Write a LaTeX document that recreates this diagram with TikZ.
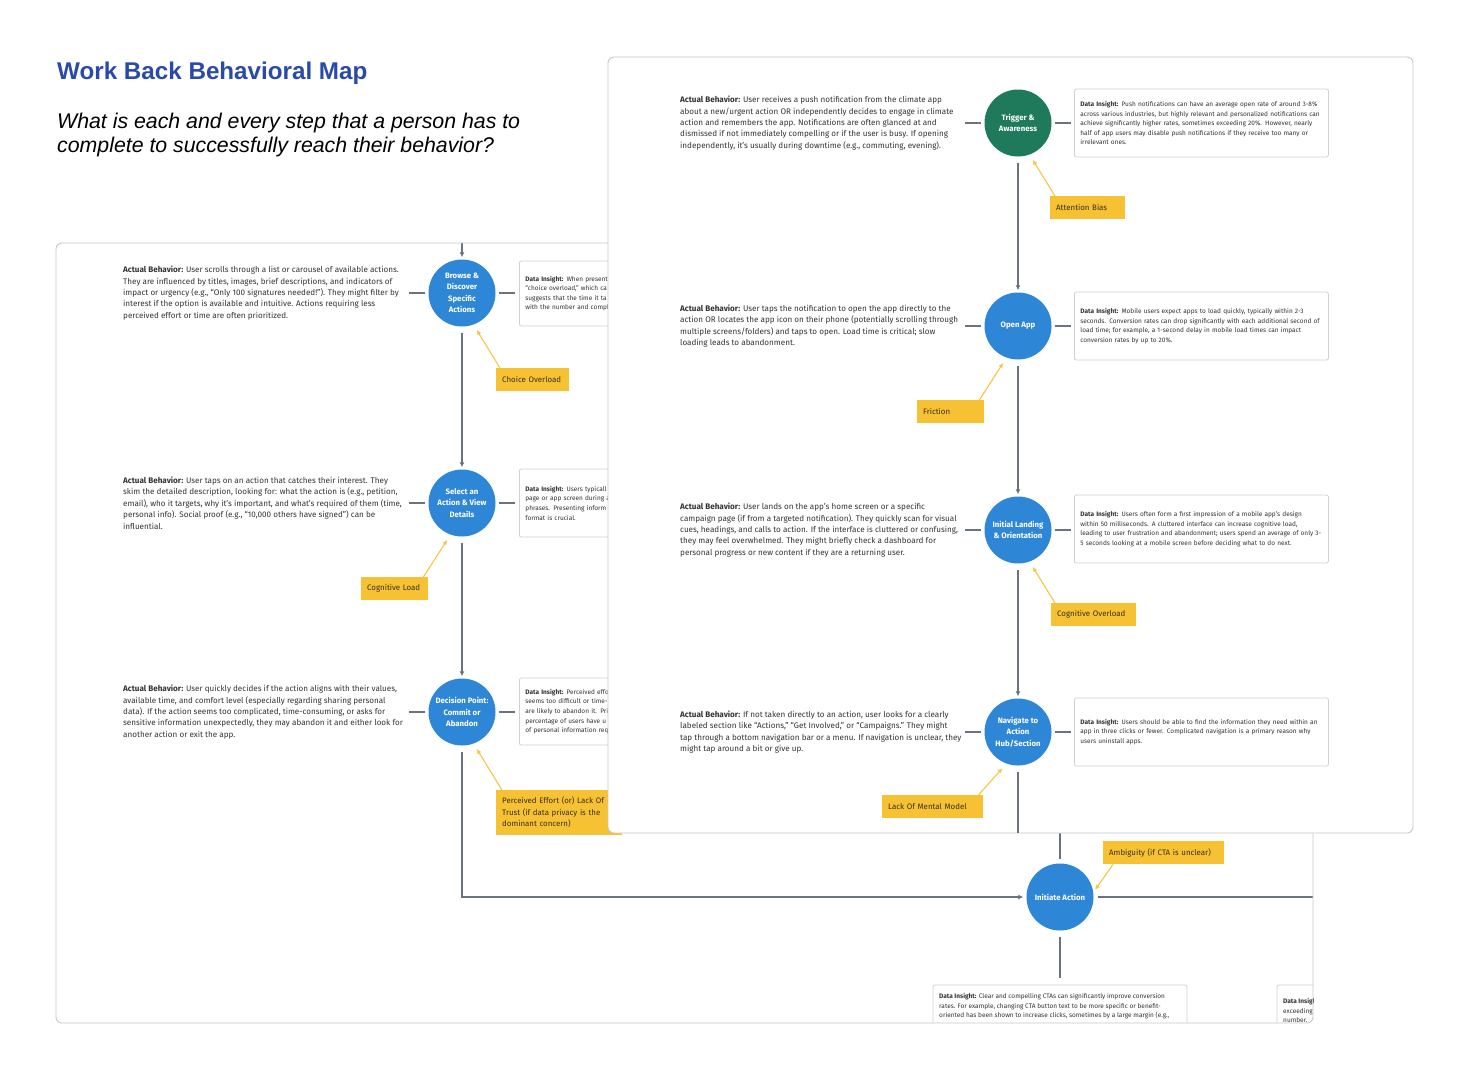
\documentclass[tikz,border=0pt]{standalone}
\usepackage{fontspec}
\setmainfont{Fira Sans}
\newfontfamily\headfont{Liberation Sans}
\usetikzlibrary{arrows.meta}
\definecolor{titleblue}{HTML}{2A4AA8}
\definecolor{nodeblue}{HTML}{2E86D6}
\definecolor{nodegreen}{HTML}{1F7A5C}
\definecolor{flagfill}{HTML}{F6C233}
\definecolor{flagline}{HTML}{F2C744}
\definecolor{connc}{HTML}{6B7280}
\definecolor{panelline}{HTML}{C8C8C8}
\definecolor{boxline}{HTML}{D0D0D0}
\definecolor{txt}{HTML}{333333}
\definecolor{flagtxt}{HTML}{3A3020}
\begin{document}
\begin{tikzpicture}[x=1pt,y=-1pt,
  stepnode/.style={circle, fill=nodeblue, minimum size=67pt, inner sep=0pt, text=white, align=center, font=\fontsize{7.8}{11.5}\selectfont\bfseries},
  behav/.style={anchor=west, align=left, inner sep=0pt, text=txt, font=\fontsize{8.1}{11.4}\selectfont},
  ibox/.style={draw=boxline, line width=0.8pt, fill=white, rounded corners=2pt, anchor=west, minimum width=254pt, minimum height=68pt, text width=242pt, inner xsep=6pt, align=left, text=txt, font=\fontsize{6.5}{9.6}\selectfont},
  itext/.style={anchor=north west, inner sep=0pt, align=left, text=txt, font=\fontsize{6.5}{9.6}\selectfont},
  flag/.style={fill=flagfill, anchor=north west, inner xsep=6pt, inner ysep=0pt, minimum height=23pt, align=left, text=flagtxt, font=\fontsize{7.9}{11.5}\selectfont},
  flow/.style={draw=connc, line width=1.3pt, -{Latex[length=5pt,width=5pt]}},
  conn/.style={draw=connc, line width=1.3pt},
  warn/.style={draw=flagline, line width=1.1pt, -{Latex[length=5pt,width=4.5pt]}, shorten >=6pt}
]
\useasboundingbox (0,0) rectangle (1470,1080);
\fill[white] (0,0) rectangle (1470,1080);

% Title
\node[anchor=base west, inner sep=0pt, text=titleblue, font=\headfont\fontsize{24.2}{28}\selectfont\bfseries] (title) at (57,79) {Work Back Behavioral Map};
\node[anchor=north west, inner sep=0pt, align=left, font=\headfont\fontsize{21.3}{24}\selectfont\itshape] (subtitle) at (57,113) {What is each and every step that a person has to\\complete to successfully reach their behavior?};

% ---------- Back panel ----------
\begin{scope}
\clip[rounded corners=6pt] (56,243) rectangle (1313,1023);
\node[stepnode] (b1) at (462,293) {Browse \&\\Discover\\Specific\\Actions};
\node[stepnode] (b2) at (462,503) {Select an\\Action \& View\\Details};
\node[stepnode] (b3) at (462,712) {Decision Point:\\Commit or\\Abandon};
\node[stepnode] (ia) at (1060,897) {Initiate Action};

\node[behav] (ab1) at (123,293) {\textbf{Actual Behavior:} User scrolls through a list or carousel of available actions.\\They are influenced by titles, images, brief descriptions, and indicators of\\impact or urgency (e.g., “Only 100 signatures needed!”). They might filter by\\interest if the option is available and intuitive. Actions requiring less\\perceived effort or time are often prioritized.};
\node[behav] (ab2) at (123,503) {\textbf{Actual Behavior:} User taps on an action that catches their interest. They\\skim the detailed description, looking for: what the action is (e.g., petition,\\email), who it targets, why it’s important, and what’s required of them (time,\\personal info). Social proof (e.g., “10,000 others have signed”) can be\\influential.};
\node[behav] (ab3) at (123,712) {\textbf{Actual Behavior:} User quickly decides if the action aligns with their values,\\available time, and comfort level (especially regarding sharing personal\\data). If the action seems too complicated, time-consuming, or asks for\\sensitive information unexpectedly, they may abandon it and either look for\\another action or exit the app.};

\node[ibox, minimum height=65pt] (d1) at (519,293.5) {\textbf{Data Insight:} When present\\“choice overload,” which ca\\suggests that the time it ta\\with the number and compl};
\node[ibox] (d2) at (519,503) {\textbf{Data Insight:} Users typicall\\page or app screen during a\\phrases. Presenting inform\\format is crucial.};
\node[ibox, minimum height=67pt] (d3) at (519,711.5) {\textbf{Data Insight:} Perceived effo\\seems too difficult or time-\\are likely to abandon it. Priv\\percentage of users have u\\of personal information req};

\draw[draw=boxline, line width=0.8pt, fill=white, rounded corners=2pt] (933,985) rectangle (1187,1060);
\node[itext] (d8) at (939,993) {\textbf{Data Insight:} Clear and compelling CTAs can significantly improve conversion\\rates. For example, changing CTA button text to be more specific or benefit-\\oriented has been shown to increase clicks, sometimes by a large margin (e.g.,};
\draw[draw=boxline, line width=0.8pt, fill=white, rounded corners=2pt] (1277,985) rectangle (1400,1060);
\node[itext] (d9) at (1283,998) {\textbf{Data Insight:}\\exceeding\\number.};

\coordinate (topin) at (462,243);
\coordinate (rightout) at (1313,897);
\coordinate (downout) at (1060,978);
\coordinate (upin) at (1060,828);
\draw[flow, shorten >=2pt] (topin) -- (b1.north);
\draw[flow, shorten <=6pt, shorten >=2pt] (b1.south) -- (b2.north);
\draw[flow, shorten <=6pt, shorten >=2pt] (b2.south) -- (b3.north);
\draw[flow, shorten <=6pt, shorten >=3pt] (b3.south) |- (ia.west);
\draw[conn, shorten <=4pt] (ia.east) -- (rightout);
\draw[conn, shorten <=6pt] (ia.south) -- (downout);
\draw[conn, shorten >=4pt] (upin) -- (ia.north);
\foreach \c in {b1,b2,b3}{
  \draw[conn] ([xshift=-3pt]\c.west) -- ++(-16,0);
  \draw[conn] ([xshift=3pt]\c.east) -- ++(16,0);
}

\node[flag, text width=61pt] (f1) at (496,368) {Choice Overload};
\node[flag, text width=55pt] (f2) at (361,577) {Cognitive Load};
\node[flag, text width=114pt, minimum height=45pt] (f3) at (496,790) {Perceived Effort (or) Lack Of\\Trust (if data privacy is the\\dominant concern)};
\node[flag, text width=109pt] (f8) at (1103,841) {Ambiguity (if CTA is unclear)};
\draw[warn] ([xshift=4pt]f1.north west) -- (b1.-70);
\draw[warn] ([xshift=-5pt]f2.north east) -- (b2.-110);
\draw[warn] ([xshift=6pt]f3.north west) -- (b3.-70);
\draw[warn, shorten >=3pt] ([xshift=10pt]f8.south west) -- (ia.8);
\end{scope}
\draw[panelline, line width=0.9pt, rounded corners=6pt] (56,243) rectangle (1313,1023);

% ---------- Front panel ----------
\draw[panelline, line width=0.9pt, fill=white, rounded corners=6pt] (608,57) rectangle (1413,833);

\node[stepnode, fill=nodegreen] (t1) at (1018,123) {Trigger \&\\Awareness};
\node[stepnode] (t2) at (1018,326) {Open App};
\node[stepnode] (t3) at (1018,530) {Initial Landing\\\& Orientation};
\node[stepnode] (t4) at (1018,732) {Navigate to\\Action\\Hub/Section};

\node[behav] (ab4) at (680,123) {\textbf{Actual Behavior:} User receives a push notification from the climate app\\about a new/urgent action OR independently decides to engage in climate\\action and remembers the app. Notifications are often glanced at and\\dismissed if not immediately compelling or if the user is busy. If opening\\independently, it’s usually during downtime (e.g., commuting, evening).};
\node[behav] (ab5) at (680,326) {\textbf{Actual Behavior:} User taps the notification to open the app directly to the\\action OR locates the app icon on their phone (potentially scrolling through\\multiple screens/folders) and taps to open. Load time is critical; slow\\loading leads to abandonment.};
\node[behav] (ab6) at (680,530) {\textbf{Actual Behavior:} User lands on the app’s home screen or a specific\\campaign page (if from a targeted notification). They quickly scan for visual\\cues, headings, and calls to action. If the interface is cluttered or confusing,\\they may feel overwhelmed. They might briefly check a dashboard for\\personal progress or new content if they are a returning user.};
\node[behav] (ab7) at (680,732) {\textbf{Actual Behavior:} If not taken directly to an action, user looks for a clearly\\labeled section like “Actions,” “Get Involved,” or “Campaigns.” They might\\tap through a bottom navigation bar or a menu. If navigation is unclear, they\\might tap around a bit or give up.};

\node[ibox] (d4) at (1074,123) {\textbf{Data Insight:} Push notifications can have an average open rate of around 3-8\%\\across various industries, but highly relevant and personalized notifications can\\achieve significantly higher rates, sometimes exceeding 20\%. However, nearly\\half of app users may disable push notifications if they receive too many or\\irrelevant ones.};
\node[ibox] (d5) at (1074,326) {\textbf{Data Insight:} Mobile users expect apps to load quickly, typically within 2-3\\seconds. Conversion rates can drop significantly with each additional second of\\load time; for example, a 1-second delay in mobile load times can impact\\conversion rates by up to 20\%.};
\node[ibox] (d6) at (1074,529) {\textbf{Data Insight:} Users often form a first impression of a mobile app’s design\\within 50 milliseconds. A cluttered interface can increase cognitive load,\\leading to user frustration and abandonment; users spend an average of only 3-\\5 seconds looking at a mobile screen before deciding what to do next.};
\node[ibox] (d7) at (1074,732) {\textbf{Data Insight:} Users should be able to find the information they need within an\\app in three clicks or fewer. Complicated navigation is a primary reason why\\users uninstall apps.};

\coordinate (navout) at (1018,833);
\draw[flow, shorten <=6pt, shorten >=2pt] (t1.south) -- (t2.north);
\draw[flow, shorten <=6pt, shorten >=2pt] (t2.south) -- (t3.north);
\draw[flow, shorten <=6pt, shorten >=2pt] (t3.south) -- (t4.north);
\draw[conn, shorten <=6pt] (t4.south) -- (navout);
\foreach \c in {t1,t2,t3,t4}{
  \draw[conn] ([xshift=-3pt]\c.west) -- ++(-16,0);
  \draw[conn] ([xshift=3pt]\c.east) -- ++(16,0);
}

\node[flag, text width=63pt] (f4) at (1050,196) {Attention Bias};
\node[flag, text width=55pt] (f5) at (917,400) {Friction};
\node[flag, text width=73pt] (f6) at (1051,603) {Cognitive Overload};
\node[flag, text width=89pt] (f7) at (882,795) {Lack Of Mental Model};
\draw[warn] ([xshift=5pt]f4.north west) -- (t1.-70);
\draw[warn] ([xshift=-5pt]f5.north east) -- (t2.-110);
\draw[warn] ([xshift=4pt]f6.north west) -- (t3.-70);
\draw[warn] ([xshift=-5pt]f7.north east) -- (t4.-110);
\end{tikzpicture}
\end{document}
